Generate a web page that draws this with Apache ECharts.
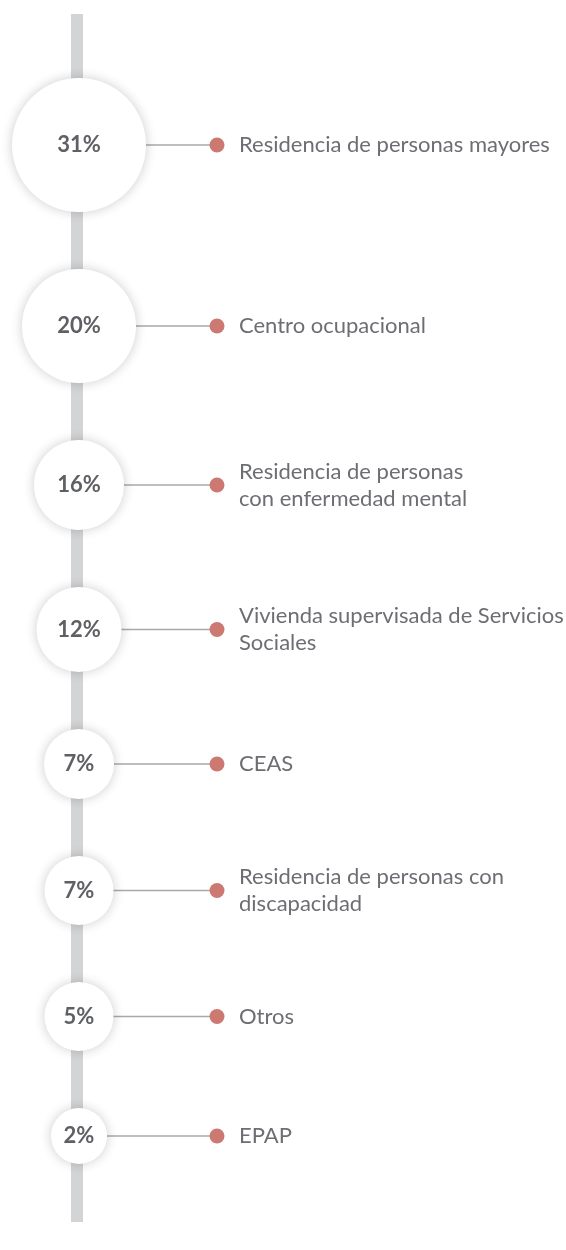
<!DOCTYPE html>
<html>
<head>
<meta charset="utf-8">
<script src="https://cdn.jsdelivr.net/npm/echarts@6/dist/echarts.min.js"></script>
<style>
  html, body { margin: 0; padding: 0; background: #ffffff; }
  #chart { width: 566px; height: 1250px; }
</style>
</head>
<body>
<div id="chart"></div>
<script>
// ---- data ----
const categories = [
  'Residencia de personas mayores',
  'Centro ocupacional',
  'Residencia de personas\ncon enfermedad mental',
  'Vivienda supervisada de Servicios\nSociales',
  'CEAS',
  'Residencia de personas con\ndiscapacidad',
  'Otros',
  'EPAP'
];
const shares = [31, 20, 16, 12, 7, 7, 5, 2];

// ---- style / layout constants ----
const CIRCLE_R = [67, 57, 45, 42.5, 35, 34.5, 34.5, 28]; // bubble radius by rank
const GAP = 57;          // vertical gap between bubbles
const FIRST_Y = 145;     // center of first bubble
const CENTER_X = 79;     // bubble column
const DOT_X = 217;       // marker column
const SPINE_X = 77;
const SPINE_TOP = 14, SPINE_BOTTOM = 1222;

// compute bubble centers (layout in axis units)
const rows = [];
let y = FIRST_Y;
shares.forEach((v, i) => {
  if (i > 0) y += CIRCLE_R[i - 1] + CIRCLE_R[i] + GAP;
  rows.push([CENTER_X, y, v, i]);
});

const chart = echarts.init(document.getElementById('chart'), null, { renderer: 'canvas' });

function renderItem(params, api) {
  const i = api.value(3);
  const p = api.coord([api.value(0), api.value(1)]);
  const d = api.coord([DOT_X, api.value(1)]);
  const r = CIRCLE_R[i];
  return {
    type: 'group',
    children: [
      {
        type: 'line',
        shape: { x1: p[0] + r - 2, y1: p[1], x2: d[0], y2: d[1] },
        style: { stroke: '#a9a9ad', lineWidth: 1.5 }
      },
      {
        type: 'circle',
        shape: { cx: p[0], cy: p[1], r: r },
        style: { fill: '#ffffff', shadowBlur: 12, shadowColor: 'rgba(0,0,0,0.2)', shadowOffsetX: 0, shadowOffsetY: 0 }
      },
      {
        type: 'text',
        style: {
          text: api.value(2) + '%',
          x: p[0], y: p[1],
          align: 'center', verticalAlign: 'middle',
          fontFamily: 'Lato', fontWeight: 'bold', fontSize: 22,
          fill: '#5f6065'
        }
      },
      {
        type: 'circle',
        shape: { cx: d[0], cy: d[1], r: 7.5 },
        style: { fill: '#cc7a71' }
      },
      {
        type: 'text',
        style: {
          text: categories[i],
          x: d[0] + 22, y: d[1],
          align: 'left', verticalAlign: 'middle',
          fontFamily: 'Lato', fontSize: 22, lineHeight: 27,
          fill: '#6d6e73'
        }
      }
    ]
  };
}

chart.setOption({
  animation: false,
  backgroundColor: '#ffffff',
  grid: { left: 0, right: 0, top: 0, bottom: 0 },
  xAxis: { type: 'value', min: 0, max: 566, show: false },
  yAxis: { type: 'value', min: 0, max: 1250, inverse: true, show: false },
  series: [
    {
      type: 'line',
      data: [[SPINE_X, SPINE_TOP], [SPINE_X, SPINE_BOTTOM]],
      symbol: 'none',
      lineStyle: { color: '#d3d4d6', width: 12, cap: 'butt' },
      z: 1,
      silent: true
    },
    {
      type: 'custom',
      renderItem: renderItem,
      data: rows,
      z: 2
    }
  ]
});
</script>
</body>
</html>
